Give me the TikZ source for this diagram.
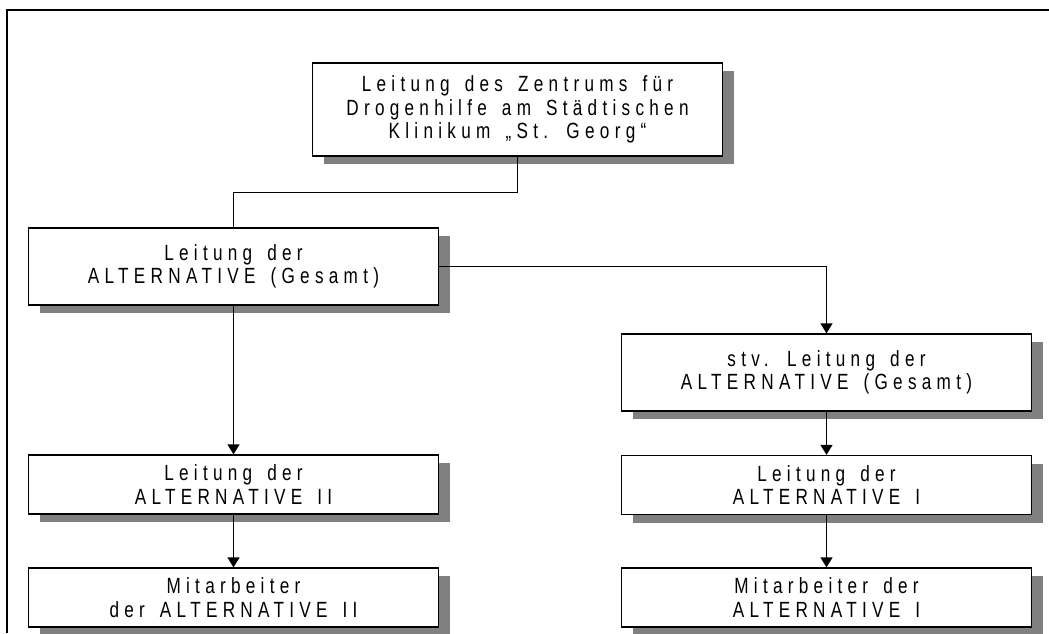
\documentclass[tikz,border=0pt]{standalone}
\usepackage{fontspec}
\newfontfamily\orgfont[LetterSpace=24,WordSpace=1.5,FakeStretch=0.78]{Liberation Sans}
\usetikzlibrary{arrows.meta,shadows}

\begin{document}
\begin{tikzpicture}
  [x=1pt,y=-1pt,>={Triangle[width=12pt,length=10pt]},
   orgbox/.style={rectangle,draw,line width=1.3pt,fill=white,
     minimum width=410pt,align=center,inner sep=0pt,
     font=\orgfont\fontsize{22}{23.5}\selectfont,
     drop shadow={shadow xshift=11pt,shadow yshift=-8pt,fill=black!50,opacity=1}}]
  \useasboundingbox (0,0) rectangle (1049,633);
  \draw[line width=1.8pt] (1049,10) -- (7,10) -- (7,633);

  \node[orgbox,minimum height=93pt] (zentrum) at (517.5,109.5)
    {Leitung des Zentrums für\\Drogenhilfe am Städtischen\\Klinikum „St. Georg“};
  \node[orgbox,minimum height=77pt] (gesamt) at (233.5,266.5)
    {Leitung der\\ALTERNATIVE (Gesamt)};
  \node[orgbox,minimum height=77pt] (stv) at (826.5,372.5)
    {stv. Leitung der\\ALTERNATIVE (Gesamt)};
  \node[orgbox,minimum height=59pt] (alt2) at (233.5,484.5)
    {Leitung der\\ALTERNATIVE II};
  \node[orgbox,minimum height=59pt] (alt1) at (826.5,485)
    {Leitung der\\ALTERNATIVE I};
  \node[orgbox,minimum height=59pt] (mit2) at (233.5,597.5)
    {Mitarbeiter\\der ALTERNATIVE II};
  \node[orgbox,minimum height=59pt] (mit1) at (826.5,597.5)
    {Mitarbeiter der\\ALTERNATIVE I};

  \draw[line width=1.3pt] (zentrum.south) -- ++(0,36) -| (gesamt.north);
  \path[->,draw,line width=1.3pt]
        (gesamt.east) -| (stv.north)
        (gesamt) edge (alt2)
        (stv) edge (alt1)
        (alt2) edge (mit2)
        (alt1) edge (mit1);
\end{tikzpicture}
\end{document}
